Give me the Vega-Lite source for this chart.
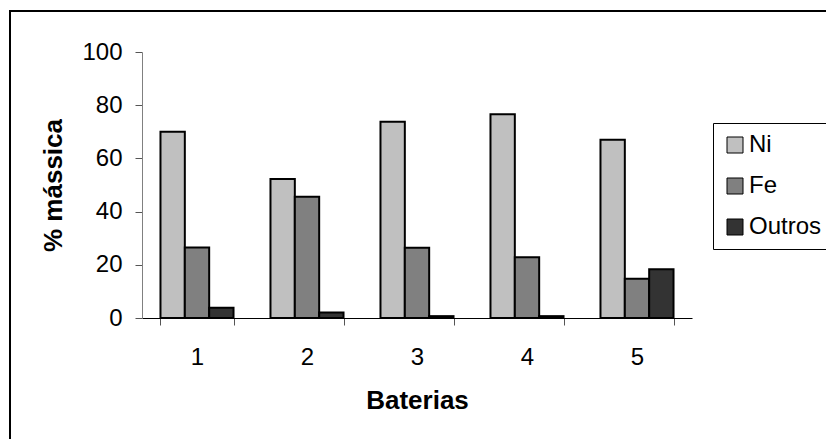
{
  "$schema": "https://vega.github.io/schema/vega-lite/v6.json",
  "autosize": {"type": "none"},
  "padding": {"left": 10, "top": 11, "right": -4, "bottom": -4},
  "width": 820,
  "height": 432,
  "background": "white",
  "data": {
    "values": [
      {"bateria": "1", "elemento": "Ni", "valor": 70.0},
      {"bateria": "1", "elemento": "Fe", "valor": 26.5},
      {"bateria": "1", "elemento": "Outros", "valor": 3.9},
      {"bateria": "2", "elemento": "Ni", "valor": 52.3},
      {"bateria": "2", "elemento": "Fe", "valor": 45.6},
      {"bateria": "2", "elemento": "Outros", "valor": 2.1},
      {"bateria": "3", "elemento": "Ni", "valor": 73.8},
      {"bateria": "3", "elemento": "Fe", "valor": 26.4},
      {"bateria": "3", "elemento": "Outros", "valor": 0.7},
      {"bateria": "4", "elemento": "Ni", "valor": 76.6},
      {"bateria": "4", "elemento": "Fe", "valor": 22.8},
      {"bateria": "4", "elemento": "Outros", "valor": 0.7},
      {"bateria": "5", "elemento": "Ni", "valor": 67.0},
      {"bateria": "5", "elemento": "Fe", "valor": 14.8},
      {"bateria": "5", "elemento": "Outros", "valor": 18.3}
    ]
  },
  "mark": {"type": "bar", "stroke": "black", "strokeWidth": 2},
  "encoding": {
    "x": {
      "field": "bateria",
      "type": "nominal",
      "scale": {"range": [132, 682], "paddingInner": 0.336, "paddingOuter": 0.168},
      "axis": {
        "title": "Baterias",
        "orient": "bottom",
        "offset": -125,
        "labelAngle": 0,
        "tickBand": "extent",
        "tickSize": 7,
        "labelPadding": 20,
        "titlePadding": 18,
        "domainColor": "black",
        "tickColor": "#555555",
        "labelFontSize": 24,
        "titleFontSize": 26
      }
    },
    "xOffset": {
      "field": "elemento",
      "type": "nominal",
      "sort": ["Ni", "Fe", "Outros"],
      "scale": {"paddingInner": 0, "paddingOuter": 0}
    },
    "y": {
      "field": "valor",
      "type": "quantitative",
      "scale": {"domain": [0, 100], "range": [307, 41], "nice": false},
      "axis": {
        "title": "% mássica",
        "offset": -132,
        "values": [0, 20, 40, 60, 80, 100],
        "grid": false,
        "tickSize": 7,
        "labelPadding": 13,
        "titlePadding": 15,
        "domainColor": "#808080",
        "tickColor": "#555555",
        "labelFontSize": 24,
        "titleFontSize": 26
      }
    },
    "color": {
      "field": "elemento",
      "type": "nominal",
      "sort": ["Ni", "Fe", "Outros"],
      "scale": {"domain": ["Ni", "Fe", "Outros"], "range": ["#C0C0C0", "#808080", "#333333"]},
      "legend": {
        "title": null,
        "orient": "none",
        "legendX": 703,
        "legendY": 112,
        "strokeColor": "black",
        "padding": 10,
        "symbolType": "square",
        "symbolSize": 256,
        "symbolStrokeColor": "black",
        "symbolStrokeWidth": 1,
        "symbolOpacity": 1,
        "labelFontSize": 24,
        "labelOffset": 2,
        "rowPadding": 17
      }
    }
  },
  "config": {
    "font": "Liberation Sans",
    "view": {"stroke": "black", "strokeWidth": 2},
    "axis": {
      "labelColor": "black",
      "titleColor": "black",
      "titleFontWeight": "bold",
      "labelFont": "Liberation Sans",
      "titleFont": "Liberation Sans"
    },
    "legend": {"labelColor": "black", "labelFont": "Liberation Sans"}
  }
}
